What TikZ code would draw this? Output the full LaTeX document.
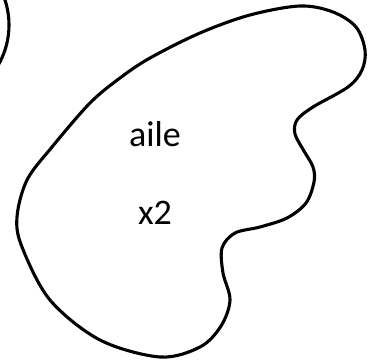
\documentclass[tikz,border=0pt]{standalone}
\usepackage{fontspec}
\setmainfont{Carlito}
\usepackage{tikz}
\usetikzlibrary{positioning}
\tikzset{contour/.style={draw,line width=3.1pt,line join=round},
	 txt/.style={inner sep=0pt,font=\fontsize{36}{42}\selectfont},
	 node distance = 1
	 }
\begin{document}
\begin{tikzpicture}[x=1pt,y=-1pt]
	\clip (0,0) rectangle (378,361);
	\draw[contour] (-71,25) ++(31:80) arc (31:-24:80);
	\draw[contour] plot[smooth cycle, tension=0.55] coordinates {(17,217) (27,180) (52,147) (90,103) (120,78) (150,58) (200,33) (250,15) (300,6) (333,12) (356,27) (365,50) (362,70) (348,87) (313,107) (297,120) (295,134) (304,151) (313,167) (314,182) (306,203) (287,218) (260,227) (235,233) (222,248) (223,273) (230,300) (221,326) (200,347) (160,357) (100,340) (50,300) (22,247)};
	\node[txt] (aile) at (155,134) {aile};
	\node[txt] (nb) at (155,213) {x2};
\end{tikzpicture}
\end{document}
